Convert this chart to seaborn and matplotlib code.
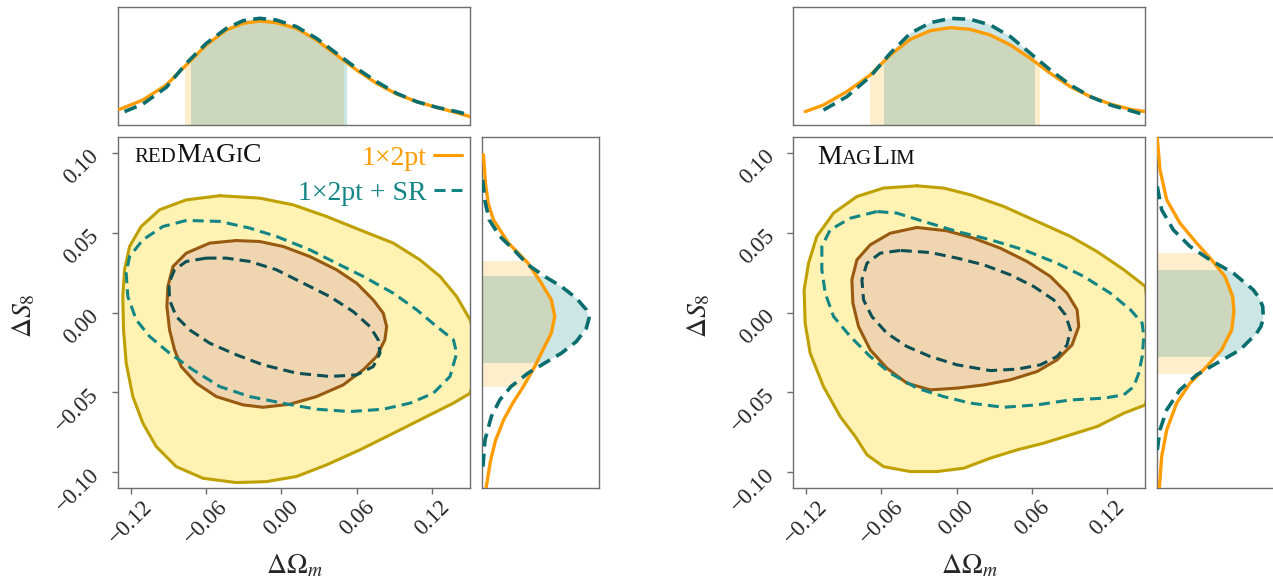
import numpy as np
import matplotlib
matplotlib.use("Agg")
import matplotlib.pyplot as plt
import seaborn as sns
from matplotlib.patches import Polygon
from matplotlib.lines import Line2D
from matplotlib.offsetbox import TextArea, HPacker, AnchoredOffsetbox

# ---------------- data ----------------
om_ticks = [-0.12, -0.06, 0.0, 0.06, 0.12]
s8_ticks = [-0.10, -0.05, 0.0, 0.05, 0.10]
om_lim = (-0.13, 0.15)
s8_lim = (-0.11, 0.11)

# redMaGiC: 1x2pt 95% / 68% contours (Delta Omega_m, Delta S8)
rm_95_om = [-0.0491, -0.0757, -0.0969, -0.1116, -0.1208, -0.1248, -0.1262, -0.1256, -0.1235, -0.1182,
            -0.1102, -0.0996, -0.0837, -0.0624, -0.0359, -0.0120, 0.0120, 0.0359, 0.0624, 0.0890,
            0.1155, 0.1368, 0.1501, 0.1580, 0.1501, 0.1394, 0.1262, 0.1102, 0.0890, 0.0624,
            0.0359, 0.0093, -0.0173]
rm_95_s8 = [0.0732, 0.0706, 0.0644, 0.0539, 0.0414, 0.0268, 0.0100, -0.0109, -0.0318, -0.0527,
            -0.0694, -0.0840, -0.0966, -0.1039, -0.1066, -0.1060, -0.1028, -0.0955, -0.0861, -0.0757,
            -0.0652, -0.0568, -0.0506, -0.0276, -0.0046, 0.0100, 0.0226, 0.0330, 0.0435, 0.0518,
            0.0602, 0.0675, 0.0717]
rm_68_om = [-0.0359, -0.0571, -0.0757, -0.0863, -0.0903, -0.0911, -0.0890, -0.0850, -0.0797, -0.0677,
            -0.0518, -0.0305, -0.0146, 0.0066, 0.0279, 0.0491, 0.0651, 0.0757, 0.0823, 0.0837,
            0.0810, 0.0730, 0.0598, 0.0438, 0.0226, 0.0013, -0.0173]
rm_68_s8 = [0.0451, 0.0435, 0.0372, 0.0288, 0.0163, 0.0038, -0.0109, -0.0234, -0.0339, -0.0443,
            -0.0527, -0.0579, -0.0594, -0.0575, -0.0527, -0.0454, -0.0359, -0.0276, -0.0171, -0.0088,
            -0.0004, 0.0079, 0.0184, 0.0268, 0.0351, 0.0414, 0.0445]
# redMaGiC: 1x2pt + SR
rm_sr95_om = [-0.0757, -0.0943, -0.1102, -0.1208, -0.1235, -0.1222, -0.1155, -0.1049, -0.0890, -0.0704,
              -0.0491, -0.0252, 0.0040, 0.0279, 0.0544, 0.0810, 0.1023, 0.1208, 0.1341, 0.1394,
              0.1368, 0.1235, 0.1076, 0.0890, 0.0651, 0.0438, 0.0226, -0.0040, -0.0252, -0.0491]
rm_sr95_s8 = [0.0577, 0.0539, 0.0456, 0.0351, 0.0247, 0.0100, -0.0046, -0.0150, -0.0255, -0.0359,
              -0.0464, -0.0527, -0.0573, -0.0606, -0.0621, -0.0606, -0.0568, -0.0506, -0.0401, -0.0255,
              -0.0171, -0.0088, 0.0017, 0.0121, 0.0226, 0.0309, 0.0393, 0.0477, 0.0529, 0.0571]
rm_sr68_om = [-0.0598, -0.0757, -0.0850, -0.0895, -0.0890, -0.0837, -0.0730, -0.0571, -0.0359, -0.0146,
              0.0120, 0.0385, 0.0598, 0.0730, 0.0784, 0.0770, 0.0704, 0.0571, 0.0385, 0.0173,
              -0.0040, -0.0252, -0.0438]
rm_sr68_s8 = [0.0341, 0.0320, 0.0268, 0.0184, 0.0079, -0.0025, -0.0109, -0.0192, -0.0265, -0.0328,
              -0.0380, -0.0401, -0.0391, -0.0339, -0.0255, -0.0171, -0.0088, 0.0006, 0.0100, 0.0184,
              0.0268, 0.0320, 0.0341]

# MagLim: 1x2pt 95% / 68% contours
ml_95_om = [-0.0316, -0.0582, -0.0794, -0.0980, -0.1113, -0.1179, -0.1214, -0.1206, -0.1166, -0.1060,
            -0.0927, -0.0807, -0.0714, -0.0582, -0.0369, -0.0157, 0.0056, 0.0268, 0.0481, 0.0693,
            0.0906, 0.1118, 0.1331, 0.1503, 0.1570, 0.1503, 0.1331, 0.1118, 0.0906, 0.0640,
            0.0374, 0.0109, -0.0104]
ml_95_s8 = [0.0794, 0.0780, 0.0727, 0.0623, 0.0477, 0.0309, 0.0142, -0.0067, -0.0255, -0.0464,
            -0.0652, -0.0777, -0.0892, -0.0966, -0.0997, -0.0997, -0.0976, -0.0913, -0.0861, -0.0819,
            -0.0767, -0.0715, -0.0631, -0.0579, -0.0318, 0.0163, 0.0268, 0.0382, 0.0477, 0.0571,
            0.0665, 0.0738, 0.0780]
ml_68_om = [-0.0316, -0.0529, -0.0688, -0.0794, -0.0834, -0.0826, -0.0781, -0.0688, -0.0555, -0.0396,
            -0.0210, 0.0003, 0.0215, 0.0428, 0.0640, 0.0799, 0.0919, 0.0972, 0.0959, 0.0879,
            0.0746, 0.0560, 0.0348, 0.0135, -0.0077]
ml_68_s8 = [0.0533, 0.0497, 0.0424, 0.0330, 0.0205, 0.0059, -0.0088, -0.0234, -0.0349, -0.0443,
            -0.0485, -0.0474, -0.0454, -0.0422, -0.0370, -0.0297, -0.0203, -0.0088, 0.0017, 0.0121,
            0.0226, 0.0320, 0.0403, 0.0466, 0.0512]
# MagLim: 1x2pt + SR
ml_sr95_om = [-0.0635, -0.0847, -0.1007, -0.1073, -0.1073, -0.1046, -0.0980, -0.0847, -0.0688, -0.0529,
              -0.0316, -0.0104, 0.0109, 0.0374, 0.0640, 0.0906, 0.1171, 0.1331, 0.1410, 0.1450,
              0.1477, 0.1490, 0.1477, 0.1384, 0.1224, 0.1012, 0.0799, 0.0534, 0.0268, 0.0003,
              -0.0263, -0.0475]
ml_sr95_s8 = [0.0633, 0.0591, 0.0518, 0.0414, 0.0268, 0.0121, -0.0025, -0.0150, -0.0276, -0.0380,
              -0.0474, -0.0527, -0.0568, -0.0594, -0.0579, -0.0548, -0.0537, -0.0516, -0.0464, -0.0380,
              -0.0276, -0.0150, -0.0067, 0.0017, 0.0121, 0.0226, 0.0309, 0.0393, 0.0456, 0.0508,
              0.0571, 0.0623]
ml_sr68_om = [-0.0449, -0.0608, -0.0714, -0.0754, -0.0741, -0.0675, -0.0555, -0.0396, -0.0210, 0.0003,
              0.0268, 0.0481, 0.0667, 0.0799, 0.0879, 0.0906, 0.0866, 0.0773, 0.0614, 0.0428,
              0.0215, 0.0003, -0.0210]
ml_sr68_s8 = [0.0389, 0.0372, 0.0309, 0.0205, 0.0079, -0.0025, -0.0130, -0.0213, -0.0276, -0.0328,
              -0.0364, -0.0355, -0.0328, -0.0276, -0.0203, -0.0109, -0.0015, 0.0079, 0.0163, 0.0236,
              0.0299, 0.0341, 0.0376]

# 1D marginals, redMaGiC
rm_om_x = [-0.1288, -0.1102, -0.0916, -0.0757, -0.0598, -0.0438, -0.0305, -0.0173, -0.0040, 0.0120,
           0.0279, 0.0438, 0.0598, 0.0757, 0.0916, 0.1076, 0.1235, 0.1394, 0.1501]
rm_om_p = [0.146, 0.234, 0.374, 0.561, 0.748, 0.888, 0.950, 0.972, 0.956, 0.903,
           0.794, 0.654, 0.514, 0.389, 0.290, 0.218, 0.165, 0.115, 0.078]
rm_om_sr_x = [-0.1248, -0.1102, -0.0916, -0.0757, -0.0598, -0.0438, -0.0305, -0.0173, -0.0040, 0.0120,
              0.0279, 0.0438, 0.0598, 0.0757, 0.0916, 0.1076, 0.1235, 0.1394, 0.1501]
rm_om_sr_p = [0.125, 0.196, 0.352, 0.576, 0.763, 0.903, 0.975, 0.997, 0.981, 0.919,
              0.810, 0.670, 0.530, 0.405, 0.296, 0.218, 0.165, 0.125, 0.093]
rm_s8_y = [0.0989, 0.0800, 0.0680, 0.0581, 0.0435, 0.0310, 0.0184, 0.0080, -0.0025, -0.0129,
           -0.0234, -0.0339, -0.0464, -0.0568, -0.0673, -0.0800, -0.0930, -0.1101]
rm_s8_p = [0.016, 0.037, 0.062, 0.110, 0.250, 0.433, 0.558, 0.651, 0.683, 0.651,
           0.573, 0.496, 0.390, 0.290, 0.205, 0.130, 0.082, 0.041]
rm_s8_sr_y = [0.0832, 0.0700, 0.0581, 0.0477, 0.0393, 0.0299, 0.0226, 0.0163, 0.0090, 0.0017,
              -0.0035, -0.0098, -0.0182, -0.0255, -0.0317, -0.0380, -0.0464, -0.0547, -0.0652, -0.0798,
              -0.0987]
rm_s8_sr_p = [0.009, 0.030, 0.070, 0.170, 0.300, 0.433, 0.589, 0.745, 0.885, 0.979,
              1.004, 0.979, 0.885, 0.745, 0.589, 0.433, 0.274, 0.170, 0.090, 0.031,
              0.009]
rm_om_band = (-0.0770, 0.0500)
rm_om_sr_band = (-0.0722, 0.0518)
rm_s8_band = (-0.0468, 0.0324)
rm_s8_sr_band = (-0.0314, 0.0226)

# 1D marginals, MagLim
ml_om_x = [-0.1206, -0.1060, -0.0874, -0.0688, -0.0529, -0.0369, -0.0210, -0.0050, 0.0109, 0.0268,
           0.0428, 0.0587, 0.0746, 0.0906, 0.1065, 0.1224, 0.1384, 0.1503]
ml_om_p = [0.125, 0.187, 0.312, 0.467, 0.654, 0.801, 0.882, 0.910, 0.894, 0.841,
           0.748, 0.623, 0.483, 0.358, 0.265, 0.196, 0.146, 0.125]
ml_om_sr_x = [-0.1060, -0.0874, -0.0688, -0.0529, -0.0369, -0.0210, -0.0050, 0.0109, 0.0268, 0.0428,
              0.0587, 0.0746, 0.0906, 0.1065, 0.1224, 0.1384, 0.1503]
ml_om_sr_p = [0.140, 0.265, 0.452, 0.670, 0.857, 0.956, 0.997, 0.988, 0.935, 0.826,
              0.670, 0.514, 0.374, 0.265, 0.187, 0.134, 0.093]
ml_s8_y = [0.1093, 0.0895, 0.0706, 0.0560, 0.0435, 0.0330, 0.0226, 0.0100, 0.0006, -0.0109,
           -0.0234, -0.0339, -0.0443, -0.0568, -0.0736, -0.0903, -0.1101]
ml_s8_p = [0.006, 0.031, 0.094, 0.218, 0.374, 0.514, 0.639, 0.711, 0.723, 0.702,
           0.608, 0.468, 0.312, 0.187, 0.094, 0.047, 0.025]
ml_s8_sr_y = [0.0790, 0.0644, 0.0518, 0.0414, 0.0330, 0.0247, 0.0142, 0.0090, 0.0038, -0.0036,
              -0.0088, -0.0130, -0.0234, -0.0318, -0.0391, -0.0485, -0.0610, -0.0736, -0.0861]
ml_s8_sr_p = [0.006, 0.047, 0.156, 0.312, 0.499, 0.717, 0.904, 0.960, 0.992, 0.998,
              0.975, 0.935, 0.780, 0.561, 0.374, 0.218, 0.094, 0.031, 0.006]
ml_om_band = (-0.0688, 0.0667)
ml_om_sr_band = (-0.0576, 0.0627)
ml_s8_band = (-0.0387, 0.0376)
ml_s8_sr_band = (-0.0276, 0.0268)

legend_labels = ["1×2pt", "1×2pt + SR"]

# ---------------- style ----------------
sns.set_style("ticks")
plt.rcParams["font.family"] = ["Liberation Serif", "DejaVu Serif"]
plt.rcParams["mathtext.fontset"] = "stix"
plt.rcParams["lines.dashed_pattern"] = [3.6, 2.0]
plt.rcParams["lines.solid_joinstyle"] = "round"
plt.rcParams["lines.dash_joinstyle"] = "round"
plt.rcParams["axes.edgecolor"] = "#6e6e6e"
plt.rcParams["axes.linewidth"] = 1.0

ORANGE = "#FF9C00"
TEAL = "#138585"
TEAL_M = "#0A6E6E"
TEAL_DARK = "#0D4F52"
YELLOW_FILL = "#FFF2B3"
YELLOW_EDGE = "#BEA100"
TAN_FILL = "#EFD5B0"
BROWN_EDGE = "#985A10"
LW = 2.2
TICK_FS = 16.5
LABEL_FS = 20


def fmt(t):
    return f"{t:.2f}".replace("-", "\u2212")


def closed(x, y):
    return list(x) + [x[0]], list(y) + [y[0]]


def outline(ax, x, y, color, ls="-", z=3):
    cx, cy = closed(x, y)
    sns.lineplot(x=cx, y=cy, sort=False, estimator=None, color=color, lw=LW,
                 linestyle=ls, ax=ax, zorder=z)


def draw_main(ax, c95, c68, sr95, sr68):
    ax.fill(*c95, color=YELLOW_FILL, lw=0, zorder=1)
    outline(ax, *c95, YELLOW_EDGE, z=2)
    ax.fill(*c68, color=TAN_FILL, lw=0, zorder=2)
    outline(ax, *c68, BROWN_EDGE, z=3)
    outline(ax, *sr95, TEAL, ls="--", z=4)
    outline(ax, *sr68, TEAL_DARK, ls="--", z=4)
    ax.set_xlim(*om_lim)
    ax.set_ylim(*s8_lim)
    ax.set_xticks(om_ticks, labels=[fmt(t) for t in om_ticks], rotation=45, fontsize=TICK_FS)
    ax.set_yticks(s8_ticks, labels=[fmt(t) for t in s8_ticks], rotation=45,
                  rotation_mode="anchor", ha="right", va="center", fontsize=TICK_FS)
    ax.tick_params(axis="x", length=4, width=1, color="#6e6e6e", pad=2)
    ax.tick_params(axis="y", length=4, width=1, color="#6e6e6e", pad=12)
    ax.set_xlabel(r"$\Delta\Omega_m$", fontsize=LABEL_FS)
    ax.set_ylabel(r"$\Delta S_8$", fontsize=LABEL_FS)
    ax.xaxis.set_label_coords(0.5, -0.185)
    ax.yaxis.set_label_coords(-0.23, 0.49)
    for s in ax.spines.values():
        s.set_visible(True)


def band(ax, pos, p, lims, color, alpha, vertical):
    if vertical:
        verts = [(0, pos[0])] + list(zip(p, pos)) + [(0, pos[-1])]
        span = ax.axhspan(*lims, color=color, alpha=alpha, lw=0, zorder=1)
    else:
        verts = [(pos[0], 0)] + list(zip(pos, p)) + [(pos[-1], 0)]
        span = ax.axvspan(*lims, color=color, alpha=alpha, lw=0, zorder=1)
    span.set_clip_path(Polygon(verts, closed=True, transform=ax.transData))


def finish_marginal(ax):
    ax.set_xticks([])
    ax.set_yticks([])
    ax.set_xlabel("")
    ax.set_ylabel("")
    for s in ax.spines.values():
        s.set_visible(True)


def draw_top(ax, x1, p1, b1, x2, p2, b2):
    band(ax, x1, p1, b1, "#FFA500", 0.2, False)
    band(ax, x2, p2, b2, "#1A8A8A", 0.22, False)
    sns.lineplot(x=x1, y=p1, sort=False, estimator=None, color=ORANGE, lw=2.4, ax=ax, zorder=3)
    sns.lineplot(x=x2, y=p2, sort=False, estimator=None, color=TEAL_M, lw=2.6,
                 linestyle="--", ax=ax, zorder=4)
    ax.set_xlim(*om_lim)
    ax.set_ylim(0, 1.1)
    finish_marginal(ax)


def draw_side(ax, y1, p1, b1, y2, p2, b2):
    band(ax, y1, p1, b1, "#FFA500", 0.2, True)
    band(ax, y2, p2, b2, "#1A8A8A", 0.22, True)
    sns.lineplot(x=p1, y=y1, sort=False, estimator=None, color=ORANGE, lw=2.4, ax=ax, zorder=3)
    sns.lineplot(x=p2, y=y2, sort=False, estimator=None, color=TEAL_M, lw=2.6,
                 linestyle="--", ax=ax, zorder=4)
    ax.set_ylim(*s8_lim)
    ax.set_xlim(0, 1.1)
    finish_marginal(ax)


def smallcaps(ax, parts, xy):
    boxes = [TextArea(t, textprops=dict(fontsize=s, color="#111111")) for t, s in parts]
    pack = HPacker(children=boxes, align="baseline", pad=0, sep=0)
    box = AnchoredOffsetbox(loc="upper left", child=pack, pad=0, borderpad=0, frameon=False,
                            bbox_to_anchor=xy, bbox_transform=ax.transAxes)
    ax.add_artist(box)


fig = plt.figure(figsize=(12.73, 5.85), dpi=100)

# left: redMaGiC
ax_l = fig.add_axes([0.0927, 0.1658, 0.2765, 0.6])
ax_lt = fig.add_axes([0.0927, 0.7863, 0.2765, 0.2012])
ax_lr = fig.add_axes([0.3784, 0.1658, 0.0924, 0.6])
draw_main(ax_l, (rm_95_om, rm_95_s8), (rm_68_om, rm_68_s8),
          (rm_sr95_om, rm_sr95_s8), (rm_sr68_om, rm_sr68_s8))
draw_top(ax_lt, rm_om_x, rm_om_p, rm_om_band, rm_om_sr_x, rm_om_sr_p, rm_om_sr_band)
draw_side(ax_lr, rm_s8_y, rm_s8_p, rm_s8_band, rm_s8_sr_y, rm_s8_sr_p, rm_s8_sr_band)
smallcaps(ax_l, [("RED", 15), ("M", 20), ("A", 15), ("G", 20), ("I", 15), ("C", 20)],
          (0.046, 0.982))

handles = [Line2D([], [], color=ORANGE, lw=LW),
           Line2D([], [], color=TEAL, lw=LW, linestyle="--")]
ax_l.legend(handles, legend_labels, loc="upper right", frameon=False, markerfirst=False,
            labelcolor="linecolor", fontsize=20, handlelength=1.0, handletextpad=0.25,
            labelspacing=0.35, borderaxespad=0.15, borderpad=0.15)

# right: MagLim
ax_r = fig.add_axes([0.6232, 0.1658, 0.2763, 0.6])
ax_rt = fig.add_axes([0.6232, 0.7863, 0.2763, 0.2012])
ax_rr = fig.add_axes([0.9086, 0.1658, 0.0924, 0.6])
draw_main(ax_r, (ml_95_om, ml_95_s8), (ml_68_om, ml_68_s8),
          (ml_sr95_om, ml_sr95_s8), (ml_sr68_om, ml_sr68_s8))
draw_top(ax_rt, ml_om_x, ml_om_p, ml_om_band, ml_om_sr_x, ml_om_sr_p, ml_om_sr_band)
draw_side(ax_rr, ml_s8_y, ml_s8_p, ml_s8_band, ml_s8_sr_y, ml_s8_sr_p, ml_s8_sr_band)
smallcaps(ax_r, [("M", 20), ("AG", 15), ("L", 20), ("IM", 15)], (0.068, 0.977))

fig.savefig("out.png", dpi=100)
